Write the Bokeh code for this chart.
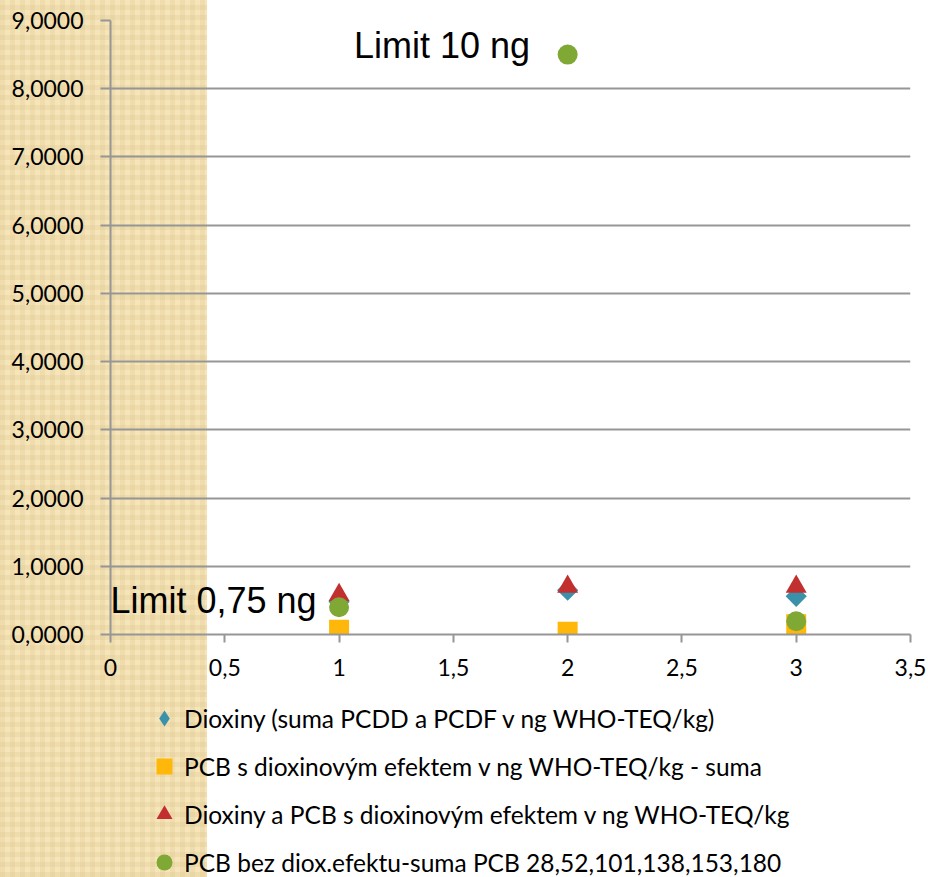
from bokeh.plotting import figure
from bokeh.layouts import column
from bokeh.models import (Range1d, FixedTicker, CustomJSTickFormatter, Legend,
                          LegendItem, ColumnDataSource)
from bokeh.core.properties import value
from bokeh.embed import file_html
from bokeh.resources import INLINE

# ---- data ----
samples = [1, 2, 3]
dioxiny = [0.48, 0.65, 0.56]
pcb_diox = [0.07, 0.04, 0.15]
dioxiny_pcb = [0.58, 0.70, 0.70]
pcb_bez = [0.40, 8.50, 0.195]

series_names = [
    "Dioxiny (suma PCDD a PCDF v ng WHO-TEQ/kg)",
    "PCB s dioxinovým efektem v ng WHO-TEQ/kg - suma",
    "Dioxiny a PCB s dioxinovým efektem v ng WHO-TEQ/kg",
    "PCB bez diox.efektu-suma PCB 28,52,101,138,153,180",
]
series_colors = ["#3C91AA", "#FFB80A", "#C22F2F", "#80A834"]
series_markers = ["square", "square", "triangle", "circle"]
legend_markers = ["diamond", "square", "triangle", "circle"]
series_angles = [0.785398, 0.0, 0.0, 0.0]
series_sizes = [15, 20, 21, 20]

y_ticks = [0, 1, 2, 3, 4, 5, 6, 7, 8, 9]
x_ticks = [0, 0.5, 1, 1.5, 2, 2.5, 3, 3.5]

limit_labels = ["Limit 0,75 ng", "Limit 10 ng"]
limit_x = [0.0, 1.065]
limit_y = [0.50, 8.635]

GRID = "#969696"
TICK_FONT = "Lato"
BG_STYLE = {
    "background": (
        "linear-gradient(to right, rgba(255,255,255,0) 0px, rgba(255,255,255,0) 207px, #FFFFFF 207px), "
        "repeating-linear-gradient(90deg, rgba(205,175,115,0.16) 0px, rgba(205,175,115,0.16) 5px, rgba(0,0,0,0) 5px, rgba(0,0,0,0) 10px), "
        "repeating-linear-gradient(0deg, rgba(205,175,115,0.16) 0px, rgba(205,175,115,0.16) 5px, rgba(0,0,0,0) 5px, rgba(0,0,0,0) 10px), "
        "#F6E5B9"
    )
}

p = figure(width=928, height=690, title=None, output_backend="svg",
           toolbar_location=None, x_range=Range1d(0, 3.5), y_range=Range1d(0, 9),
           min_border_left=110, min_border_right=18, min_border_top=20,
           min_border_bottom=56)
p.outline_line_color = None
p.background_fill_alpha = 0
p.border_fill_alpha = 0
p.styles = BG_STYLE

# axes
p.xgrid.visible = False
p.ygrid.grid_line_color = GRID
p.ygrid.grid_line_width = 2
p.yaxis.ticker = FixedTicker(ticks=y_ticks)
p.xaxis.ticker = FixedTicker(ticks=x_ticks)
p.yaxis.formatter = CustomJSTickFormatter(code="return tick.toFixed(4).replace('.', ',');")
p.xaxis.formatter = CustomJSTickFormatter(code="return String(tick).replace('.', ',');")
for ax in (p.xaxis[0], p.yaxis[0]):
    ax.axis_line_color = GRID
    ax.axis_line_width = 2
    ax.major_tick_line_color = GRID
    ax.major_tick_line_width = 2
    ax.major_tick_in = 0
    ax.minor_tick_line_color = None
    ax.major_label_text_font = TICK_FONT
    ax.major_label_text_font_size = "23px"
    ax.major_label_text_color = "black"
p.yaxis.major_tick_out = 10
p.yaxis.major_label_standoff = 17
p.xaxis.major_tick_out = 8
p.xaxis.major_label_standoff = 16

# series
series_values = [dioxiny, pcb_diox, dioxiny_pcb, pcb_bez]
for vals, mk, ang, sz, col in zip(series_values, series_markers, series_angles,
                                  series_sizes, series_colors):
    p.scatter(samples, vals, marker=mk, angle=ang, size=sz,
              fill_color=col, line_color=None)

# limit labels
src = ColumnDataSource(dict(x=limit_x, y=limit_y, text=limit_labels))
p.text(x="x", y="y", text="text", source=src, text_font=value("Liberation Sans"),
       text_font_size="36px", text_baseline="alphabetic", text_align="left",
       text_color="black")

# ---- legend panel (below the chart) ----
# its ranges lie far from the data, so the series here only feed the legend swatches
lf = figure(width=928, height=187, title=None, output_backend="svg",
            toolbar_location=None, x_range=Range1d(100, 101), y_range=Range1d(100, 101),
            x_axis_type=None, y_axis_type=None, min_border=0)
lf.outline_line_color = None
lf.background_fill_alpha = 0
lf.border_fill_alpha = 0
lf.grid.visible = False
lf.styles = BG_STYLE

legend_renderers = [
    lf.scatter(samples, vals, marker=mk, fill_color=col, line_color=None)
    for vals, mk, col in zip(series_values, legend_markers, series_colors)
]
legend = Legend(items=[LegendItem(label=n, renderers=[r])
                       for n, r in zip(series_names, legend_renderers)],
                location=(34, -9), orientation="vertical",
                glyph_width=40, glyph_height=48, label_height=20,
                label_standoff=-11, spacing=0, padding=0, margin=0,
                label_text_font=TICK_FONT, label_text_font_size="24.5px",
                label_text_color="black",
                background_fill_alpha=0, border_line_alpha=0)
lf.add_layout(legend, "center")

layout = column(p, lf, spacing=0)
open("out.html", "w").write(file_html(layout, INLINE))
